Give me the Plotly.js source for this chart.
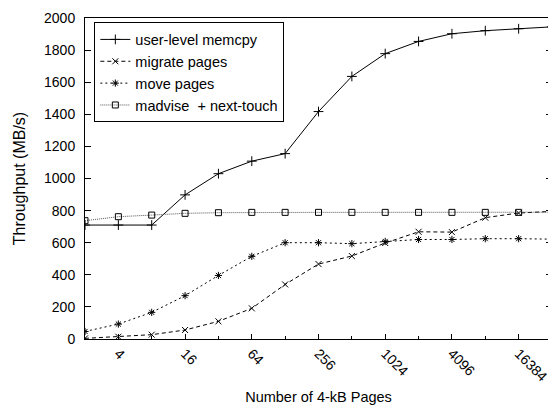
<!DOCTYPE html>
<html>
<head>
<meta charset="utf-8">
<script src="https://cdn.plot.ly/plotly-3.0.1.min.js"></script>
<style>
html,body{margin:0;padding:0;overflow:hidden;background:#fff;}
#chart{width:552px;height:405px;}
</style>
</head>
<body>
<div id="chart"></div>
<script>
var pages = [2, 4, 8, 16, 32, 64, 128, 256, 512, 1024, 2048, 4096, 8192, 16384, 32768];
var memcpy = [710, 710, 710, 898, 1030, 1108, 1155, 1417, 1636, 1778, 1854, 1902, 1921, 1933, 1945];
var migratePages = [4, 14, 27, 56, 110, 191, 340, 467, 517, 598, 668, 666, 756, 785, 795];
var movePages = [47, 93, 166, 270, 396, 515, 600, 600, 594, 608, 620, 620, 625, 625, 622];
var madvise = [737, 762, 772, 783, 787, 789, 789, 789, 789, 789, 789, 789, 789, 789, 790];
var tickVals = [4, 16, 64, 256, 1024, 4096, 16384];
var tickText = ['4', '16', '64', '256', '1024', '4096', '16384'];
var minorVals = [8, 32, 128, 512, 2048, 8192];
var seriesNames = ['user-level memcpy', 'migrate pages', 'move pages', 'madvise  + next-touch'];

var fam = 'Liberation Sans, Arial, Helvetica, sans-serif';
var tickFont = {family: fam, size: 14, color: '#000'};

var traces = [
  {x: pages, y: memcpy, name: seriesNames[0], mode: 'lines+markers',
   line: {color: '#000', width: 1},
   marker: {symbol: 'cross-thin-open', size: 7, line: {color: '#000', width: 1}}},
  {x: pages, y: migratePages, name: seriesNames[1], mode: 'lines+markers',
   line: {color: '#000', width: 1, dash: '4px,3px'},
   marker: {symbol: 'x-thin-open', size: 6, line: {color: '#000', width: 1}}},
  {x: pages, y: movePages, name: seriesNames[2], mode: 'lines+markers',
   line: {color: '#000', width: 1, dash: '2px,3px'},
   marker: {symbol: 'asterisk-open', size: 6, line: {color: '#000', width: 1}}},
  {x: pages, y: madvise, name: seriesNames[3], mode: 'lines+markers',
   line: {color: '#555', width: 1, dash: '1px,1px'},
   marker: {symbol: 'square-open', size: 6, color: '#000', line: {color: '#000', width: 1}}}
];

var layout = {
  width: 552, height: 405,
  margin: {l: 85, r: 0, t: 18, b: 66},
  paper_bgcolor: '#fff', plot_bgcolor: '#fff',
  font: tickFont,
  showlegend: true,
  legend: {x: 0.02, y: 0.986, xanchor: 'left', yanchor: 'top',
    bordercolor: '#000', borderwidth: 1, bgcolor: 'rgba(255,255,255,0)',
    font: {family: fam, size: 14.5, color: '#000'}, tracegroupgap: 0},
  xaxis: {
    type: 'log',
    range: [Math.log10(2), Math.log10(32768)],
    tickmode: 'array', tickvals: tickVals, ticktext: tickText,
    tickangle: 45,
    ticks: 'inside', ticklen: 5, tickcolor: '#000', tickwidth: 1,
    minor: {tickmode: 'array', tickvals: minorVals, ticks: 'inside', ticklen: 3, tickcolor: '#000', tickwidth: 1, showgrid: false},
    showline: true, linecolor: '#000', linewidth: 1, mirror: true,
    showgrid: false, zeroline: false,
    tickfont: tickFont,
    title: {text: 'Number of 4-kB Pages', font: {family: fam, size: 14.5, color: '#000'}, standoff: 8}
  },
  yaxis: {
    range: [0, 2000],
    tickmode: 'linear', tick0: 0, dtick: 200,
    ticks: 'inside', ticklen: 6, tickcolor: '#000', tickwidth: 1,
    ticklabelstandoff: 6,
    showline: true, linecolor: '#000', linewidth: 1, mirror: 'ticks',
    showgrid: false, zeroline: false,
    tickfont: tickFont,
    title: {text: 'Throughput (MB/s)', font: {family: fam, size: 16, color: '#000'}, standoff: 14}
  }
};

Plotly.newPlot('chart', traces, layout, {displayModeBar: false, staticPlot: true});
</script>
</body>
</html>
